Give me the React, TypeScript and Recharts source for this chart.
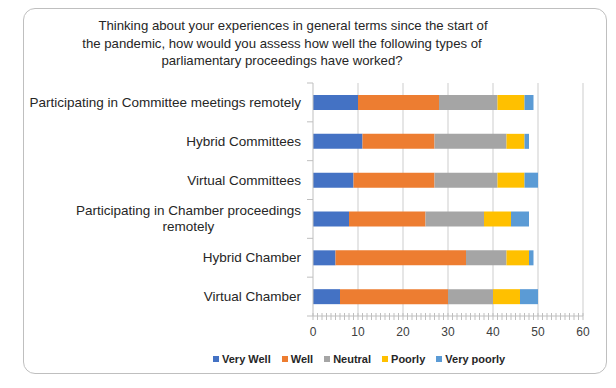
import { BarChart, Bar, XAxis, YAxis, CartesianGrid, Legend } from "recharts";

const categories = [
  "Participating in Committee meetings remotely",
  "Hybrid Committees",
  "Virtual Committees",
  "Participating in Chamber proceedings|remotely",
  "Hybrid Chamber",
  "Virtual Chamber",
];
const veryWell = [10, 11, 9, 8, 5, 6];
const well = [18, 16, 18, 17, 29, 24];
const neutral = [13, 16, 14, 13, 9, 10];
const poorly = [6, 4, 6, 6, 5, 6];
const veryPoorly = [2, 1, 3, 4, 1, 4];
const xTicks = [0, 10, 20, 30, 40, 50, 60];

const series = [
  { key: "veryWell", name: "Very Well", color: "#4472C4" },
  { key: "well", name: "Well", color: "#ED7D31" },
  { key: "neutral", name: "Neutral", color: "#A5A5A5" },
  { key: "poorly", name: "Poorly", color: "#FFC000" },
  { key: "veryPoorly", name: "Very poorly", color: "#5B9BD5" },
];

const data = categories.map((name, i) => ({
  name,
  veryWell: veryWell[i],
  well: well[i],
  neutral: neutral[i],
  poorly: poorly[i],
  veryPoorly: veryPoorly[i],
}));

const FONT = "'Liberation Sans', Arial, sans-serif";
const LABEL_SIZE = 13.5;
const W = 600;
const H = 372;
const TOP = 75;
const PLOT_BOTTOM = 308;
const BAND = (PLOT_BOTTOM - TOP) / categories.length;
const minorTicks = Array.from({ length: 61 }, (_, i) => i);

let ctx: CanvasRenderingContext2D | null = null;
const measure = (s: string) => {
  if (!ctx) ctx = document.createElement("canvas").getContext("2d");
  if (!ctx) return s.length * 6;
  ctx.font = `${LABEL_SIZE}px 'Liberation Sans'`;
  return ctx.measureText(s).width;
};

const YTick = (props: any) => {
  const { x, y, payload, index } = props;
  const lines = String(payload.value).split("|");
  const last = index === categories.length - 1;
  const tx = x - 12;
  return (
    <g>
      <line x1={x - 6} x2={x} y1={y - BAND / 2} y2={y - BAND / 2} stroke="#bfbfbf" />
      {last && <line x1={x - 6} x2={x} y1={y + BAND / 2} y2={y + BAND / 2} stroke="#bfbfbf" />}
      {lines.length === 1 ? (
        <text x={tx} y={y} dy={4.5} textAnchor="end" fontSize={LABEL_SIZE} fill="#262626" fontFamily={FONT}>
          {lines[0]}
        </text>
      ) : (
        lines.map((l, i) => (
          <text
            key={i}
            x={tx - measure(lines[0]) / 2}
            y={y - 8.5 + i * 16.5}
            dy={4.5}
            textAnchor="middle"
            fontSize={LABEL_SIZE}
            fill="#262626"
            fontFamily={FONT}
          >
            {l}
          </text>
        ))
      )}
    </g>
  );
};

const XTick = (props: any) => {
  const { x, y, payload } = props;
  const v = payload.value;
  return (
    <g>
      <line x1={x} x2={x} y1={y - 3} y2={y + 4} stroke="#bfbfbf" />
      {v % 10 === 0 && (
        <text x={x} y={y + 20} textAnchor="middle" fontSize={12} fill="#404040" fontFamily={FONT}>
          {v}
        </text>
      )}
    </g>
  );
};

const LegendContent = () => (
  <div
    style={{
      height: 26,
      display: "flex",
      alignItems: "center",
      paddingLeft: 205,
      fontFamily: FONT,
      fontSize: 11,
      fontWeight: "bold",
      color: "#262626",
    }}
  >
    {series.map((s) => (
      <span key={s.key} style={{ display: "flex", alignItems: "center", marginRight: 11 }}>
        <span style={{ width: 6, height: 6, background: s.color, marginRight: 3 }} />
        {s.name}
      </span>
    ))}
  </div>
);

export default function App() {
  return (
    <div style={{ position: "relative", width: W, height: H, fontFamily: FONT }}>
      <div
        style={{
          position: "absolute",
          left: 15,
          top: 0,
          width: 582,
          height: 364,
          border: "1px solid #bfbfbf",
          borderRadius: 12,
        }}
      />
      <div
        style={{
          position: "absolute",
          left: 15,
          top: 9,
          width: 518,
          textAlign: "center",
          fontSize: 13.2,
          lineHeight: "17.5px",
          color: "#262626",
        }}
      >
        <div style={{ paddingLeft: 22 }}>Thinking about your experiences in general terms since the start of</div>
        <div>the pandemic, how would you assess how well the following types of</div>
        <div>parliamentary proceedings have worked?</div>
      </div>
      <div style={{ position: "absolute", left: 0, top: 0 }}>
        <BarChart
          width={W}
          height={H}
          data={data}
          layout="vertical"
          margin={{ top: TOP, right: 25, bottom: 8, left: 0 }}
        >
          <CartesianGrid horizontal={false} verticalValues={xTicks.slice(1)} stroke="#d9d9d9" strokeWidth={1.3} />
          <XAxis
            type="number"
            domain={[0, 60]}
            ticks={minorTicks}
            interval={0}
            tick={<XTick />}
            tickLine={false}
            tickSize={0}
            tickMargin={0}
            axisLine={{ stroke: "#bfbfbf" }}
            height={30}
          />
          <YAxis
            type="category"
            dataKey="name"
            width={305}
            tick={<YTick />}
            tickLine={false}
            tickSize={0}
            tickMargin={0}
            interval={0}
            axisLine={{ stroke: "#bfbfbf" }}
          />
          <Legend verticalAlign="bottom" content={<LegendContent />} />
          {series.map((s) => (
            <Bar
              key={s.key}
              dataKey={s.key}
              name={s.name}
              stackId="a"
              fill={s.color}
              barSize={15}
              isAnimationActive={false}
            />
          ))}
        </BarChart>
      </div>
    </div>
  );
}
